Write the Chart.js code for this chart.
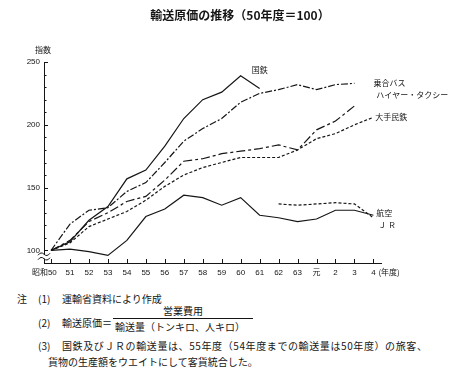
<!DOCTYPE html>
<html>
<head>
<meta charset="utf-8">
<script src="https://cdn.jsdelivr.net/npm/chart.js@4.4.1/dist/chart.umd.min.js"></script>
<style>
  body { margin: 0; background: #fff; }
  #wrap { position: relative; width: 470px; height: 387px; font-family: "Noto Sans CJK JP", sans-serif; color: #151515; }
  #wrap canvas { position: absolute; left: 0; top: 0; }
  .t { position: absolute; white-space: nowrap; line-height: 14px; font-size: 10px; }
</style>
</head>
<body>
<div id="wrap">
  <canvas id="chart" width="470" height="290"></canvas>
  <div class="t" style="left:0;width:480px;top:8px;text-align:center;font-size:12px;font-weight:bold;">輸送原価の推移（50年度＝100）</div>

  <div class="t" style="left:17px;top:292px;">注</div>
  <div class="t" style="left:38px;top:292px;">(1)</div>
  <div class="t" style="left:62px;top:292px;">運輸省資料により作成</div>

  <div class="t" style="left:38px;top:316px;">(2)</div>
  <div class="t" style="left:62px;top:316px;">輸送原価＝</div>
  <div class="t" style="left:113px;width:140px;top:304px;text-align:center;">営業費用</div>
  <div style="position:absolute;left:113px;top:318px;width:140px;height:1px;background:#151515;"></div>
  <div class="t" style="left:115px;top:320px;">輸送量（トンキロ、人キロ）</div>

  <div class="t" style="left:38px;top:339px;">(3)</div>
  <div class="t" style="left:62px;top:339px;letter-spacing:0.6px;">国鉄及びＪＲの輸送量は、55年度（54年度までの輸送量は50年度）の旅客、</div>
  <div class="t" style="left:48px;top:355px;">貨物の生産額をウエイトにして客貨統合した。</div>
</div>

<script>
const years = ['昭和50\u2007\u2007\u2007', '51', '52', '53', '54', '55', '56', '57', '58', '59',
               '60', '61', '62', '63', '元', '2', '3', '4'];

const kokutetsu = [100, 107, 124, 135, 157, 164, 183, 205, 220, 226, 239, 229];
const noriaiBus = [100, 121, 132, 134, 147, 154, 170, 187, 197, 205, 218, 225, 228, 232, 228, 232, 233];
const taxi      = [100, 108, 123, 130, 139, 143, 156, 171, 173, 177, 179, 181, 184, 180, 196, 203, 215];
const ootemin   = [100, 106, 119, 125, 131, 140, 151, 160, 166, 170, 174, 174, 174, 180, 189, 193, 200, 206];
const koku      = [100, 101, 99, 96, 108, 127, 133, 144, 142, 136, 142, 128, 126, 123, 125, 132, 132, 128];
const jr        = [null, null, null, null, null, null, null, null, null, null, null, null, 137, 136, 137, 138, 137, 126];

const yLabels = [100, 150, 200, 250];

// 系列名の位置 (x: 年度の位置, y: 指数)
const seriesNames = [
  { text: '国鉄', x: 11.0, y: 243.5, align: 'center' },
  { text: '乗合バス', x: 17.0, y: 233.5, align: 'left' },
  { text: 'ハイヤー・タクシー', x: 17.15, y: 224, align: 'left' },
  { text: '大手民鉄', x: 17.1, y: 206.5, align: 'left' },
  { text: '航空', x: 17.15, y: 130, align: 'left' },
  { text: 'Ｊ Ｒ', x: 17.25, y: 120.5, align: 'left' }
];

const ink = '#151515';
const tickFont = { family: '"Liberation Sans", "Noto Sans CJK JP", sans-serif', size: 8 };

const toPoints = arr => arr.map((v, i) => v == null ? null : { x: i, y: v }).filter(p => p);

function line(data, dash) {
  return {
    data: toPoints(data),
    borderColor: ink,
    borderWidth: 1.2,
    borderDash: dash,
    pointRadius: 0,
    tension: 0,
    fill: false
  };
}

const decor = {
  id: 'decor',
  afterDraw(chart) {
    const { ctx, chartArea: a, scales: { x, y } } = chart;
    ctx.save();
    ctx.strokeStyle = ink;
    ctx.fillStyle = ink;
    ctx.lineWidth = 1;

    // 内向きの目盛り
    y.ticks.forEach(t => {
      if (t.value < 100) return;
      const py = Math.round(y.getPixelForValue(t.value)) + 0.5;
      const len = t.value % 50 === 0 ? 4 : 2.5;
      ctx.beginPath();
      ctx.moveTo(a.left, py);
      ctx.lineTo(a.left + len, py);
      ctx.stroke();
    });
    x.ticks.forEach(t => {
      const px = Math.round(x.getPixelForValue(t.value)) + 0.5;
      ctx.beginPath();
      ctx.moveTo(px, a.bottom);
      ctx.lineTo(px, a.bottom - 4);
      ctx.stroke();
    });

    // 軸の省略記号
    const by = y.getPixelForValue(95);
    ctx.fillStyle = '#fff';
    ctx.fillRect(a.left - 2, by - 2, 4, 4);
    ctx.beginPath();
    [-2.5, 2].forEach(off => {
      ctx.moveTo(a.left - 6, by + off + 1);
      ctx.quadraticCurveTo(a.left - 3, by + off - 3, a.left, by + off);
      ctx.quadraticCurveTo(a.left + 3, by + off + 3, a.left + 6, by + off - 1);
    });
    ctx.stroke();

    // 文字
    ctx.fillStyle = ink;
    ctx.textBaseline = 'middle';
    ctx.font = '8px "Noto Sans CJK JP", sans-serif';
    seriesNames.forEach(s => {
      ctx.textAlign = s.align;
      ctx.fillText(s.text, x.getPixelForValue(s.x), y.getPixelForValue(s.y));
    });
    ctx.textAlign = 'left';
    ctx.fillText('指数', a.left - 9, 50);
    ctx.fillText('(年度)', x.getPixelForValue(17) + 5, a.bottom + 9);
    ctx.restore();
  }
};

new Chart(document.getElementById('chart'), {
  type: 'line',
  data: {
    datasets: [
      line(kokutetsu, []),
      line(noriaiBus, [7, 2, 2, 2]),
      line(taxi, [9, 3, 3, 3]),
      line(ootemin, [3, 2]),
      line(koku, []),
      line(jr, [3, 2])
    ]
  },
  options: {
    responsive: false,
    animation: false,
    devicePixelRatio: 1,
    layout: { padding: { left: 0, right: 89, top: 62, bottom: 0 } },
    plugins: { legend: { display: false }, tooltip: { enabled: false } },
    scales: {
      x: {
        type: 'linear',
        min: -0.37,
        max: 17.4,
        afterFit: s => { s.height = 27; },
        grid: { display: false, drawTicks: false },
        border: { display: true, color: ink, width: 1 },
        ticks: {
          stepSize: 1,
          includeBounds: false,
          autoSkip: false,
          maxRotation: 0,
          padding: 5,
          color: ink,
          font: tickFont,
          callback: v => Number.isInteger(v) && years[v] !== undefined ? years[v] : ''
        }
      },
      y: {
        min: 90,
        max: 250,
        afterFit: s => { s.width = 44; },
        grid: { display: false, drawTicks: false },
        border: { display: true, color: ink, width: 1 },
        ticks: {
          stepSize: 10,
          autoSkip: false,
          padding: 4,
          color: ink,
          font: tickFont,
          callback: v => yLabels.includes(v) ? String(v) : ''
        }
      }
    }
  },
  plugins: [decor]
});
</script>
</body>
</html>
